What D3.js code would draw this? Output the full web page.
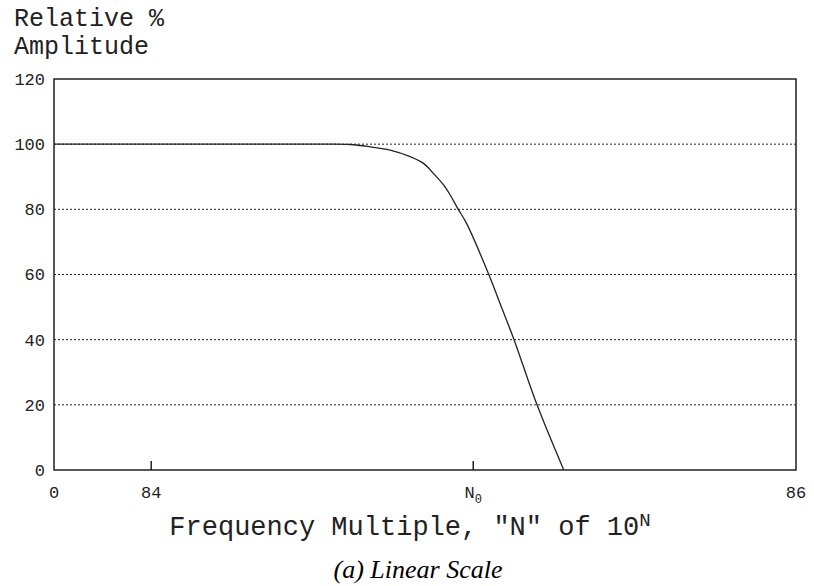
<!DOCTYPE html>
<html>
<head>
<meta charset="utf-8">
<script src="https://d3js.org/d3.v7.min.js"></script>
<style>
  body { margin: 0; background: #fff; }
  .mono { font-family: "Liberation Mono", "DejaVu Sans Mono", monospace; fill: #222; }
  .grid { stroke: #222; stroke-width: 1; stroke-dasharray: 2,2; }
</style>
</head>
<body>
<div id="chart"></div>
<script>
// y axis ticks (relative % amplitude)
var yTicks = [0, 20, 40, 60, 80, 100, 120];
var gridVals = [20, 40, 60, 80, 100];

// x axis is not linear in the original, positions given as % of the axis width
var xTickLabels = ["0", "84", "N0", "86"];
var xTickPos = [0, 13.1, 56.5, 100];

// response curve
var curveX = [0, 35.6, 39.9, 42.6, 45.3, 48.0, 49.8, 51.1, 52.5, 53.4, 54.4, 55.6, 58.6, 60.3, 62.0, 65.1, 68.7];
var curveY = [100, 100, 99.9, 99.2, 98.2, 96.2, 94.1, 91.1, 87.5, 84.4, 80.3, 75.7, 60, 50, 40, 20, 0];

var width = 814, height = 586;
var margin = {top: 79, right: 18, bottom: 116, left: 54};
var w = width - margin.left - margin.right,
    h = height - margin.top - margin.bottom;

var svg = d3.select("#chart").append("svg")
    .attr("width", width)
    .attr("height", height);

var g = svg.append("g")
    .attr("transform", "translate(" + margin.left + "," + margin.top + ")");

var x = d3.scaleLinear().domain([0, 100]).range([0, w]);
var y = d3.scaleLinear().domain([0, 120]).range([h, 0]);

// dotted grid
g.selectAll(".grid")
  .data(gridVals)
  .enter().append("line")
    .attr("class", "grid")
    .attr("x1", 0).attr("x2", w)
    .attr("y1", function(d) { return y(d); })
    .attr("y2", function(d) { return y(d); });

// frame
g.append("rect")
    .attr("x", 0).attr("y", 0)
    .attr("width", w).attr("height", h)
    .attr("fill", "none")
    .attr("stroke", "#222")
    .attr("stroke-width", 1.5);

// small inward ticks on x axis (only the inner ones)
g.selectAll(".xtick")
  .data(xTickPos.slice(1, 3))
  .enter().append("line")
    .attr("x1", function(d) { return x(d); })
    .attr("x2", function(d) { return x(d); })
    .attr("y1", h).attr("y2", h - 9)
    .attr("stroke", "#222")
    .attr("stroke-width", 1.5);

// y tick labels
g.selectAll(".ylab")
  .data(yTicks)
  .enter().append("text")
    .attr("class", "mono")
    .attr("x", -9)
    .attr("y", function(d) { return y(d); })
    .attr("dy", "0.35em")
    .attr("text-anchor", "end")
    .style("font-size", "17px")
    .text(function(d) { return d; });

// x tick labels
var xl = g.selectAll(".xlab")
  .data(xTickLabels)
  .enter().append("text")
    .attr("class", "mono")
    .attr("x", function(d, i) { return x(xTickPos[i]); })
    .attr("y", h + 28)
    .attr("text-anchor", "middle")
    .style("font-size", "17px");

xl.each(function(d) {
  var t = d3.select(this);
  if (d === "N0") {
    t.append("tspan").text("N");
    t.append("tspan").attr("dy", 5).style("font-size", "12px").text("0");
  } else {
    t.text(d);
  }
});

// the curve
var line = d3.line()
    .x(function(d, i) { return x(curveX[i]); })
    .y(function(d) { return y(d); })
    .curve(d3.curveCatmullRom.alpha(0.5));

g.append("path")
    .datum(curveY)
    .attr("fill", "none")
    .attr("stroke", "#222")
    .attr("stroke-width", 1.3)
    .attr("d", line);

// y axis title (two lines, top left)
svg.append("text")
    .attr("class", "mono")
    .attr("x", 14).attr("y", 26)
    .style("font-size", "25px")
    .text("Relative %");
svg.append("text")
    .attr("class", "mono")
    .attr("x", 14).attr("y", 54)
    .style("font-size", "25px")
    .text("Amplitude");

// x axis title with superscript
var xt = svg.append("text")
    .attr("class", "mono")
    .attr("x", 410).attr("y", 535)
    .attr("text-anchor", "middle")
    .style("font-size", "27px");
xt.append("tspan").text("Frequency Multiple, \"N\" of 10");
xt.append("tspan").attr("dy", -9).style("font-size", "19px").text("N");

// caption
svg.append("text")
    .attr("x", 418).attr("y", 578)
    .attr("text-anchor", "middle")
    .style("font-family", "\"Liberation Serif\", \"Times New Roman\", serif")
    .style("font-style", "italic")
    .style("font-size", "26px")
    .style("fill", "#000")
    .text("(a) Linear Scale");
</script>
</body>
</html>
